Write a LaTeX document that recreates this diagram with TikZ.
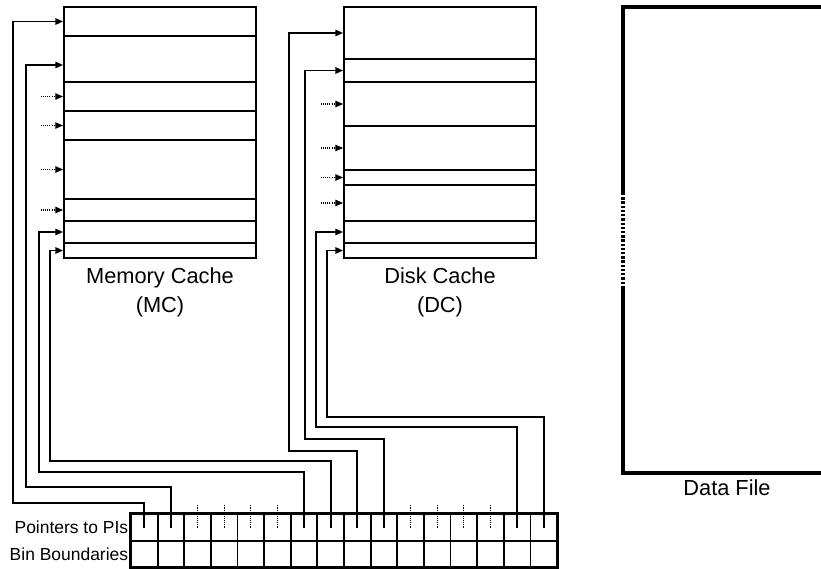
\documentclass[tikz,border=0pt]{standalone}
\usepackage{fontspec}
\setmainfont{Liberation Sans}
\usetikzlibrary{arrows.meta, positioning}
\newcommand{\unitpx}{0.3mm}
\tikzset{
  slot/.style={rectangle, draw=black, minimum width=192*\unitpx,
    inner sep=0pt, line width=1.7pt},
  cell/.style={rectangle, draw=black, minimum width=26.625*\unitpx,
    inner sep=0pt, line width=1.5pt},
  border/.style={draw=black, line width=2.5pt},
  ptr/.style={-{Triangle[length=6.5pt, width=5.5pt]}, line width=1.4pt, color=black},
  dotptr/.style={-{Triangle[length=6.5pt, width=5.5pt]}, line width=0.9pt,
    dash pattern=on 0.9pt off 0.9pt, color=black},
  tick/.style={line width=0.9pt, dash pattern=on 0.9pt off 0.9pt},
  filebox/.style={line width=2.6pt, color=black},
  bigtext/.style={font=\fontsize{18.6}{24.8}\selectfont, align=center, inner sep=0pt},
  smalltext/.style={font=\fontsize{14.9}{17}\selectfont, inner sep=1.5pt}
}
\begin{document}
\begin{tikzpicture}[x=\unitpx, y=-\unitpx]
  \useasboundingbox (0,0) rectangle (821,569);

  % Memory cache slots
  \foreach \ya/\yb [count=\i] in {7/36, 36/82, 82/111, 111/140, 140/199, 199/221, 221/243, 243/258}
    \node[slot, minimum height={(\yb-\ya)*\unitpx}] (mc\i) at (160,{(\ya+\yb)/2}) {};
  \node[bigtext] (mctext) at (160,292.5) {Memory Cache\\(MC)};
  \coordinate (mc2in) at ([yshift=-6*\unitpx]mc2.west);

  % Disk cache slots
  \foreach \ya/\yb [count=\i] in {7/59, 59/82, 82/126, 126/170, 170/185, 185/221, 221/243, 243/258}
    \node[slot, minimum height={(\yb-\ya)*\unitpx}] (dc\i) at (440,{(\ya+\yb)/2}) {};
  \node[bigtext] (dctext) at (440,292.5) {Disk Cache\\(DC)};

  % Data file
  \draw[filebox] (821,7) -| (623,193);
  \draw[filebox, dash pattern=on 2pt off 1.6pt] (623,193) -- (623,288);
  \draw[filebox] (623,288) |- (821,473);
  \node[bigtext] (dftext) at (727,488) {Data File};

  % Table of pointers and bin boundaries
  \foreach \k in {0,...,15} {
    \node[cell, minimum height=27*\unitpx] (p\k) at ({131+26.625*(\k+0.5)},527.5) {};
    \node[cell, minimum height=26*\unitpx] (b\k) at ({131+26.625*(\k+0.5)},554) {};
  }
  \draw[border] (p0.north west) rectangle (b15.south east);
  \node[smalltext, anchor=east] (ptrtext) at (p0.west) {Pointers to PIs};
  \node[smalltext, anchor=east] (bintext) at (b0.west) {Bin Boundaries};

  % Pointers into the caches
  \foreach \c/\tgt/\lx/\ly in {0/mc1.west/13/503, 1/mc2in/26/487, 6/mc7.west/39/472, 7/mc8.west/50/461,
                                8/dc1.west/289/451, 9/dc2.west/305/439, 14/dc7.west/316/427, 15/dc8.west/327/417}
    \draw[ptr] (p\c.center) |- (\lx,\ly) |- (\tgt);

  % Elided pointers
  \foreach \c in {2,3,4,5,10,11,12,13}
    \draw[tick] (p\c.center) -- ++(0,-23);
  \foreach \i in {3,4,5,6} {
    \draw[dotptr] ([xshift=-22*\unitpx]mc\i.west) -- (mc\i.west);
    \draw[dotptr] ([xshift=-22*\unitpx]dc\i.west) -- (dc\i.west);
  }
\end{tikzpicture}
\end{document}
